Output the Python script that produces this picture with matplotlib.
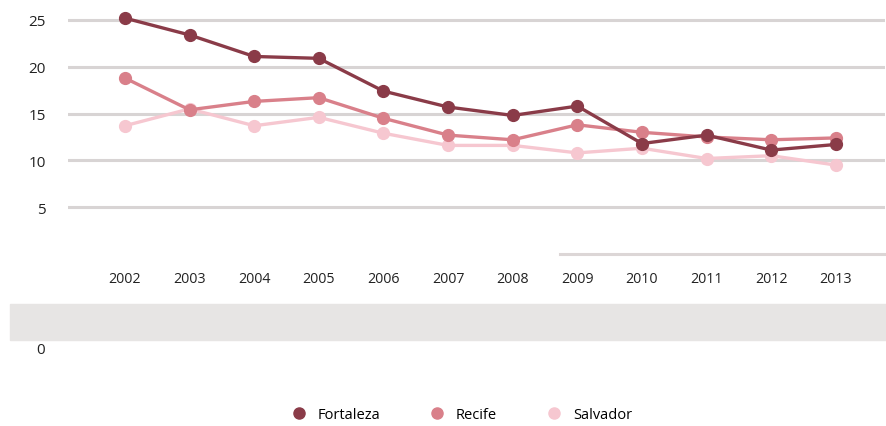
import numpy as np
import matplotlib.pyplot as plt
from matplotlib.lines import Line2D
from matplotlib.patches import Rectangle

plt.rcParams['font.family'] = ['Open Sans', 'DejaVu Sans']

years = [2002, 2003, 2004, 2005, 2006, 2007, 2008, 2009, 2010, 2011, 2012, 2013]
fortaleza = [25.2, 23.4, 21.1, 20.9, 17.4, 15.7, 14.8, 15.8, 11.8, 12.7, 11.1, 11.7]
recife = [18.8, 15.4, 16.3, 16.7, 14.5, 12.7, 12.2, 13.8, 13.0, 12.5, 12.2, 12.4]
salvador = [13.7, 15.5, 13.7, 14.6, 12.9, 11.6, 11.6, 10.8, 11.3, 10.2, 10.5, 9.5]
series_names = ['Fortaleza', 'Recife', 'Salvador']
colors = ['#8a3b48', '#d9808a', '#f6c7d0']
yticks = [5, 10, 15, 20, 25]

W, H = 887, 427
fig = plt.figure(figsize=(W / 100, H / 100), dpi=100, facecolor='white')
# axes placed in pixel terms: left 68, right 885, value 0 at y=255, value 26 at y~12
ax = fig.add_axes([68 / W, (H - 255) / H, (885 - 68) / W, (255 - 11.6) / H])
ax.set_xlim(2001.12, 2013.76)
ax.set_ylim(0, 26)

for v in yticks:
    ax.axhline(v, color='#d8d4d4', lw=2.2, zorder=1)
ax.axhline(0, xmin=(560 - 68) / 817, xmax=1, color='#dcd6d6', lw=2.2, zorder=1, clip_on=False)

for vals, c in zip([fortaleza, recife, salvador][::-1], colors[::-1]):
    ax.plot(years, vals, color=c, lw=2.4, marker='o', ms=8.5, zorder=3)

ax.set_xticks(years)
ax.set_xticklabels([str(y) for y in years], fontsize=10.3, color='#222222')
ax.set_yticks(yticks)
ax.set_yticklabels([str(v) for v in yticks], fontsize=11, color='#222222')
ax.tick_params(axis='x', length=0, pad=12)
ax.tick_params(axis='y', length=0, pad=16)
for s in ax.spines.values():
    s.set_visible(False)

# grey band and stray "0" label below the plot
fig.patches.append(Rectangle((10 / W, (H - 341) / H), (W - 10) / W, 36 / H,
                             transform=fig.transFigure, color='#e7e5e4', zorder=0))
fig.text(41 / W, 1 - 351 / H, '0', fontsize=11, color='#222222', ha='center', va='center')

handles = [Line2D([], [], ls='none', marker='o', ms=8, color=c) for c in colors]
fig.legend(handles, series_names, loc='center', bbox_to_anchor=(461 / W, 1 - 416 / H),
           ncol=3, frameon=False, fontsize=10.5, handletextpad=0.7, columnspacing=3.3,
           handlelength=1.2, borderpad=0.2)

plt.savefig('out.png', dpi=100, facecolor='white')
